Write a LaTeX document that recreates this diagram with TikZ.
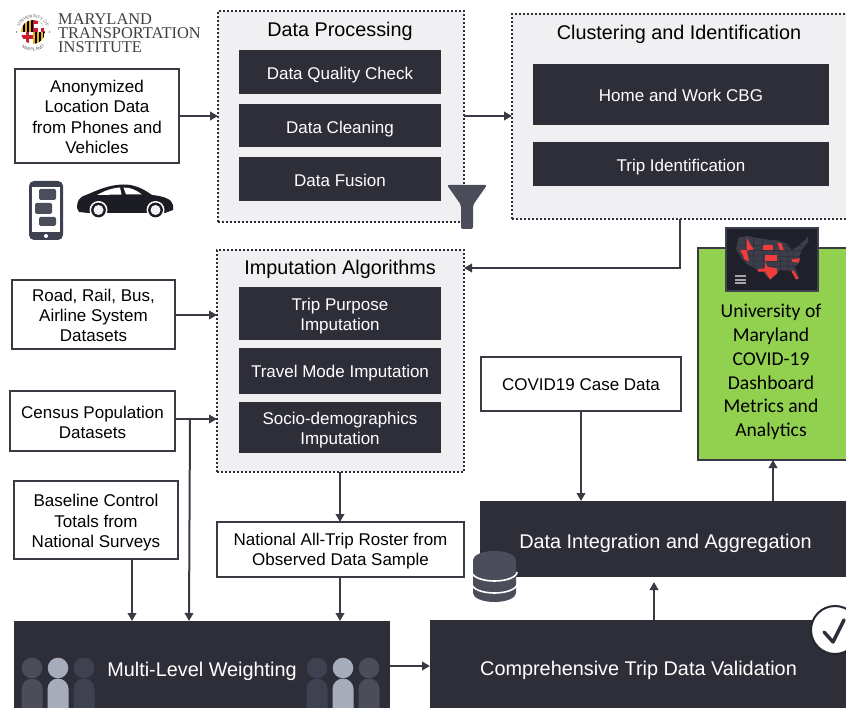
\documentclass[tikz,border=0pt]{standalone}
\usepackage{fontspec}
\setmainfont{Liberation Sans}
\newfontfamily\serifl{Liberation Serif}
\newfontfamily\carl{Carlito}
\usetikzlibrary{arrows.meta,decorations.text}
\definecolor{darkbox}{HTML}{2E2E38}
\definecolor{linec}{HTML}{3A3A44}
\definecolor{panelbg}{HTML}{F0F0F2}
\definecolor{iconc}{HTML}{4B4D5B}
\definecolor{iconl}{HTML}{A6ACB9}
\definecolor{icond}{HTML}{3E4250}
\definecolor{greenb}{HTML}{92D050}
\definecolor{mapbg}{HTML}{20202A}
\definecolor{mapst}{HTML}{3C3E4A}
\definecolor{mapred}{HTML}{F23B3B}
\definecolor{carc}{HTML}{1C1C24}
\definecolor{gold}{HTML}{E8B21F}
\definecolor{mdred}{HTML}{C8202F}
\tikzset{
  x=1pt,y=-1pt,
  wh/.style 2 args={minimum width=#1pt,minimum height=#2pt},
  panel/.style={draw=darkbox,fill=panelbg,line width=2pt,dash pattern=on 2pt off 2pt,rectangle,anchor=north west,inner sep=0pt,outer sep=0pt},
  whitebox/.style={draw=linec,fill=white,line width=2pt,align=center,anchor=north west,inner sep=0pt,outer sep=0pt,font=\fontsize{17}{20.4}\selectfont,text=black},
  darkb/.style={fill=darkbox,draw=none,align=center,anchor=north west,inner sep=0pt,outer sep=0pt,text=white,font=\fontsize{17}{20}\selectfont},
  oneline/.style={text height=15.5pt,text depth=0pt},
  bigb/.style={fill=darkbox,draw=none,anchor=north west,inner sep=0pt,outer sep=0pt},
  bigt/.style={text=white,font=\fontsize{19.85}{24}\selectfont,inner sep=0pt},
  title/.style={font=\fontsize{19.8}{24}\selectfont,text=black,inner sep=0pt},
  conn/.style={draw=linec,line width=2pt,-{Triangle[length=8pt,width=8.5pt]}},
}
\newcommand{\person}[3]{%
  \fill[#3] (#1,#2) circle (10.3);
  \fill[#3] (#1-10.5,#2+40) -- (#1-10.5,#2+21) arc[start angle=180,end angle=360,radius=10.5] -- (#1+10.5,#2+40) -- cycle;
}
\newcommand{\up}[1]{\rule{0pt}{#1pt}}
\begin{document}
\begin{tikzpicture}
\useasboundingbox (0,0) rectangle (846,708);
\clip (0,0) rectangle (846,708);
% panels
\node[panel,wh={246}{211}] (dp) at (218,11) {};
\node[title] (dpt) at (340,31) {Data Processing};
\node[darkb,oneline,wh={202}{44}] (dq) at (239,50) {Data Quality Check};
\node[darkb,oneline,wh={202}{43}] (dc) at (239,104) {Data Cleaning};
\node[darkb,oneline,wh={202}{44}] (df) at (239,157) {Data Fusion};
\node[panel,wh={340}{205}] (ci) at (512,14) {};
\node[title] (cit) at (679,34) {Clustering and Identification};
\node[darkb,text height=14pt,text depth=0pt,wh={296}{61}] (hw) at (533,64) {Home and Work CBG};
\node[darkb,oneline,wh={296}{44}] (ti) at (533,142) {Trip Identification};
\node[panel,wh={247}{222}] (ia) at (217,250) {};
\node[title] (iat) at (340,269) {Imputation Algorithms};
\node[darkb,wh={202}{53}] (tp) at (239,287) {\up{18}Trip Purpose\\Imputation};
\node[darkb,text height=14pt,text depth=0pt,wh={202}{46}] (tm) at (239,348) {Travel Mode Imputation};
\node[darkb,wh={202}{51}] (sd) at (239,402) {\up{18}Socio-demographics\\Imputation};
% white boxes
\node[whitebox,wh={164}{94}] (anon) at (15,69) {\up{14}Anonymized\\Location Data\\from Phones and\\Vehicles};
\node[whitebox,wh={163}{69}] (road) at (12,280) {\up{14}Road, Rail, Bus,\\Airline System\\Datasets};
\node[whitebox,wh={165}{60}] (census) at (10,391) {\up{15}Census Population\\Datasets};
\node[whitebox,wh={164}{78}] (base) at (14,481) {\up{18}Baseline Control\\Totals from\\National Surveys};
\node[whitebox,wh={247}{55}] (nat) at (217,522) {\up{16}National All-Trip Roster from\\Observed Data Sample};
\node[whitebox,text height=14pt,text depth=0pt,wh={200}{54}] (cov) at (481,357) {COVID19 Case Data};
% green
\node[whitebox,fill=greenb,wh={152}{212}] (grn) at (698,248) {};
\node[font=\carl\fontsize{19.6}{23.8}\selectfont,align=center,inner sep=0pt] (grnt) at (771,372) {University of\\Maryland\\COVID-19\\Dashboard\\Metrics and\\Analytics};
% big dark
\node[bigb,wh={370}{76}] (di) at (480,501) {};
\node[bigt] (dit) at (665.5,543) {Data Integration and Aggregation};
\node[bigb,wh={376}{90}] (mw) at (14,621) {};
\node[bigt] (mwt) at (202,671) {Multi-Level Weighting};
\node[bigb,wh={420}{90}] (cv) at (430,620) {};
\node[bigt] (cvt) at (638.5,670) {Comprehensive Trip Data Validation};
% connectors
\coordinate (anonE) at (anon.east |- 0,116);
\coordinate (dpW) at (dp.west |- 0,116);
\coordinate (dpE) at (dp.east |- 0,116);
\coordinate (ciW) at (ci.west |- 0,116);
\draw[conn] (anonE) -- (dpW);
\draw[conn] (dpE) -- (ciW);
\coordinate (ciS) at (680,219);
\coordinate (iaE) at (464,268);
\draw[conn] (ciS) -- (680,268) -- (iaE);
\coordinate (roadE) at (road.east |- 0,315);
\coordinate (iaW1) at (ia.west |- 0,315);
\draw[conn] (roadE) -- (iaW1);
\coordinate (cenE) at (census.east |- 0,419);
\coordinate (iaW2) at (ia.west |- 0,419);
\draw[conn] (cenE) -- (iaW2);
\coordinate (jun) at (190,419);
\coordinate (mwT2) at (189,621);
\draw[conn] (jun) -- (mwT2);
\draw[conn] (base.south -| 132,0) -- (mw.north -| 132,0);
\draw[conn] (ia.south -| 340,0) -- (nat.north -| 340,0);
\draw[conn] (nat.south -| 340,0) -- (mw.north -| 340,0);
\coordinate (mwE) at (390,666);
\coordinate (cvW) at (430,666);
\draw[conn] (mwE) -- (cvW);
\coordinate (cvN) at (654,620);
\coordinate (diS) at (654,582);
\draw[conn] (cvN) -- (diS);
\draw[conn] (cov.south -| 581,0) -- (di.north -| 581,0);
\draw[conn] (di.north -| 773,0) -- (grn.south -| 773,0);
% funnel
\fill[iconc,rounded corners=2pt] (447,185) -- (487,185) -- (473,205) -- (473,229) -- (461,229) -- (461,205) -- cycle;
% phone
\fill[icond,rounded corners=5pt] (29,181) rectangle (63,240);
\fill[white] (32,187) rectangle (60,232);
\fill[iconc,rounded corners=1.5pt] (39,189) rectangle (56,200);
\fill[iconc,rounded corners=1.5pt] (35,203) rectangle (52,214);
\fill[iconc,rounded corners=1.5pt] (39,217) rectangle (56,226);
\fill[white] (46,236) circle (2);
% car
\fill[carc] (77,208) .. controls (77,201) and (79,197) .. (86,195) .. controls (98,190) and (108,185) .. (123,184.5) .. controls (135,184) and (145,190) .. (152,195) .. controls (163,196) and (172,199) .. (173,205) -- (173,210) -- (165,213) -- (146,213) -- (108,213) -- (88,213) -- (79,212) -- cycle;
\fill[white] (97,195) .. controls (104,191) and (112,188) .. (120,187.5) -- (121.5,194.5) -- cycle;
\fill[white] (123.5,187.5) .. controls (131,187.5) and (136,190) .. (142,194.5) -- (126,194.5) -- cycle;
\fill[white] (98.5,210) circle (9);
\fill[white] (155.5,210) circle (9);
\fill[carc] (98.5,210) circle (7.4);
\fill[white!90!gray] (98.5,210) circle (5);
\fill[carc] (155.5,210) circle (7.4);
\fill[white!90!gray] (155.5,210) circle (5);
% database
\fill[iconc] (473,560) -- (473,593) arc[start angle=180,end angle=0,x radius=21.5,y radius=9] -- (516,560) -- cycle;
\fill[iconc] (494.5,560) ellipse[x radius=21.5,y radius=9];
\draw[white,line width=1.6pt] (472,572) arc[start angle=180,end angle=0,x radius=22.5,y radius=9];
\draw[white,line width=1.6pt] (472,584) arc[start angle=180,end angle=0,x radius=22.5,y radius=9];
% people
\person{32}{668}{iconc}
\person{84}{668}{icond}
\person{58}{668}{iconl}
\person{317}{668}{icond}
\person{369}{668}{iconc}
\person{343}{668}{iconl}
% check
\fill[white,draw=icond!60!black,line width=2pt] (835,630) circle (24);
\draw[darkbox,line width=3.4pt,line cap=round,line join=round] (824,632) -- (833,642) -- (844,620);
% dashboard map
\node[draw=icond,fill=mapbg,line width=2pt,outer sep=0pt,minimum width=92pt,minimum height=63pt,anchor=north west,inner sep=0pt] (mapb) at (726,228) {};
\begin{scope}[shift={(430,170)},x=0.3333pt,y=-0.3333pt]
\fill[mapst] (925,203) -- (950,198) -- (1000,207) -- (1045,212) -- (1072,222) -- (1085,240) -- (1100,232) -- (1125,210) -- (1133,200) -- (1136,213) -- (1115,240) -- (1108,262) -- (1112,272) -- (1095,292) -- (1108,325) -- (1098,330) -- (1085,303) -- (1050,300) -- (1042,308) -- (1022,330) -- (1010,320) -- (1000,305) -- (985,303) -- (975,295) -- (950,282) -- (935,265) -- (918,238) -- cycle;
\begin{scope}
\clip (925,203) -- (950,198) -- (1000,207) -- (1045,212) -- (1072,222) -- (1085,240) -- (1100,232) -- (1125,210) -- (1133,200) -- (1136,213) -- (1115,240) -- (1108,262) -- (1112,272) -- (1095,292) -- (1108,325) -- (1098,330) -- (1085,303) -- (1050,300) -- (1042,308) -- (1022,330) -- (1010,320) -- (1000,305) -- (985,303) -- (975,295) -- (950,282) -- (935,265) -- (918,238) -- cycle;
\foreach \yy in {225,240,257,272,287} \draw[mapbg,line width=0.25pt] (910,\yy) -- (1140,\yy+3);
\foreach \xx in {945,970,998,1028,1050,1070,1090} \draw[mapbg,line width=0.25pt] (\xx,195) -- (\xx+3,335);
\end{scope}
\fill[mapred] (950,203) -- (962,225) -- (972,238) -- (950,242) -- cycle;
\fill[mapred] (931,240) -- (950,240) -- (957,274) -- (945,270) -- cycle;
\fill[mapred] (998,225) -- (1028,225) -- (1028,240) -- (998,240) -- cycle;
\fill[mapred] (1042,218) -- (1055,220) -- (1061,240) -- (1050,241) -- cycle;
\fill[mapred] (1005,256) -- (1040,256) -- (1040,273) -- (1005,273) -- cycle;
\fill[mapred] (1005,275) -- (1012,290) -- (1040,295) -- (1042,310) -- (1020,328) -- (1005,305) -- (985,305) -- (983,298) -- (1005,295) -- cycle;
\fill[mapred] (1090,300) -- (1106,325) -- (1098,328) -- (1085,305) -- cycle;
\fill[mapred] (1085,268) -- (1110,265) -- (1105,278) -- (1088,276) -- cycle;
\foreach \yy in {315,326,337} \fill[gray!70] (915,\yy) rectangle (947,\yy+6);
\end{scope}
% logo
\path[decorate,decoration={text along path,text align=center,text={|\fontsize{4.4}{5}\selectfont\color{black!65}|UNIVERSITY OF}}] (18,33) arc[start angle=180,end angle=360,radius=15];
\path[decorate,decoration={text along path,text align=center,text={|\fontsize{4.4}{5}\selectfont\color{black!65}|MARYLAND}}] (14,32) arc[start angle=180,end angle=0,radius=19];
\fill[black!50] (16.5,32) circle (0.8) (49.5,32) circle (0.8);
\begin{scope}
\clip (33,32) circle (12);
\fill[gold] (21,20) rectangle (33,32);
\fill[mdred] (33,20) rectangle (45,32);
\fill[white] (21,32) rectangle (33,44);
\fill[gold] (33,32) rectangle (45,44);
\foreach \ii in {0,1,2} {
  \fill[black] (22.5+\ii*4,20) rectangle (24.5+\ii*4,32);
  \fill[black] (34.5+\ii*4,32) rectangle (36.5+\ii*4,44);
}
\fill[mdred] (21,35.5) rectangle (33,39);
\fill[mdred] (25.5,32) rectangle (29,44);
\fill[white] (34,24) rectangle (45,28);
\fill[white] (37.5,20) rectangle (41,32);
\end{scope}
\node[font=\serifl\fontsize{16.4}{14}\selectfont,align=left,text=black!75,anchor=north west,inner sep=0pt] (mti) at (58,13) {MARYLAND\\TRANSPORTATION\\INSTITUTE};
\end{tikzpicture}
\end{document}
